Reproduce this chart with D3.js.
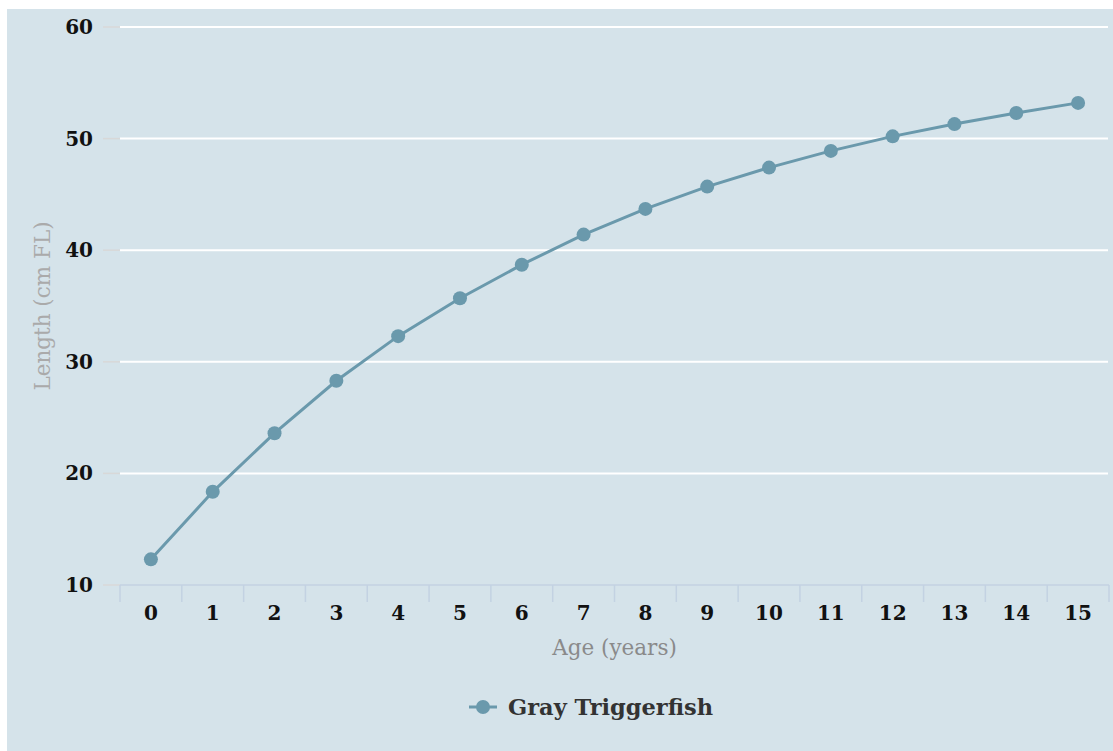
<!DOCTYPE html>
<html>
<head>
<meta charset="utf-8">
<script src="https://cdn.jsdelivr.net/npm/d3@7"></script>
<style>
  body { margin: 0; background: #fff; }
  svg { display: block; }
</style>
</head>
<body>
<svg id="chart" width="1113" height="751"></svg>
<script>
// ages and mean fork length
var ages = [0, 1, 2, 3, 4, 5, 6, 7, 8, 9, 10, 11, 12, 13, 14, 15];
var lengths = [12.3, 18.35, 23.6, 28.3, 32.3, 35.7, 38.7, 41.4, 43.7, 45.7, 47.4, 48.9, 50.2, 51.3, 52.3, 53.2];
var yTicks = [10, 20, 30, 40, 50, 60];
var seriesName = "Gray Triggerfish";

var svg = d3.select("#chart"),
    width = +svg.attr("width"),
    height = +svg.attr("height");

var plotL = 120, plotR = 1109, plotT = 27, plotB = 585;
var lineColor = "#6a99ac";
var serif = "'DejaVu Serif', serif";

// panel background
svg.append("rect")
  .attr("x", 7).attr("y", 9)
  .attr("width", width - 7).attr("height", height - 9)
  .attr("fill", "#d5e3ea");

var x = d3.scaleBand()
  .domain(ages)
  .range([plotL, plotR]);

var y = d3.scaleLinear()
  .domain([10, 60])
  .range([plotB, plotT]);

// horizontal grid + short gray y ticks
var grid = svg.append("g");
grid.selectAll("line.grid")
  .data(yTicks.slice(1))
  .enter().append("line")
  .attr("class", "grid")
  .attr("x1", plotL).attr("x2", plotR - 1)
  .attr("y1", function(d) { return y(d); })
  .attr("y2", function(d) { return y(d); })
  .attr("stroke", "#ffffff")
  .attr("stroke-width", 2);

grid.selectAll("line.ytick")
  .data(yTicks)
  .enter().append("line")
  .attr("class", "ytick")
  .attr("x1", 103).attr("x2", plotL)
  .attr("y1", function(d) { return y(d); })
  .attr("y2", function(d) { return y(d); })
  .attr("stroke", "#d8d8d8")
  .attr("stroke-width", 1.5);

svg.append("g").selectAll("text")
  .data(yTicks)
  .enter().append("text")
  .attr("x", 93)
  .attr("y", function(d) { return y(d); })
  .attr("dy", "0.35em")
  .attr("text-anchor", "end")
  .style("font-family", serif)
  .style("font-weight", "bold")
  .style("font-size", "20px")
  .attr("fill", "#111")
  .text(function(d) { return d; });

// x axis: baseline, ticks between bands, labels
var xa = svg.append("g");
xa.append("line")
  .attr("x1", plotL).attr("x2", plotR)
  .attr("y1", plotB).attr("y2", plotB)
  .attr("stroke", "#c3d2e2")
  .attr("stroke-width", 1.5);

var edges = ages.map(function(d) { return x(d); }).concat([plotR]);
xa.selectAll("line.xtick")
  .data(edges)
  .enter().append("line")
  .attr("class", "xtick")
  .attr("x1", function(d) { return d; })
  .attr("x2", function(d) { return d; })
  .attr("y1", plotB).attr("y2", plotB + 17)
  .attr("stroke", "#c3d2e2")
  .attr("stroke-width", 1.5);

xa.selectAll("text")
  .data(ages)
  .enter().append("text")
  .attr("x", function(d) { return x(d) + x.bandwidth() / 2; })
  .attr("y", 620)
  .attr("text-anchor", "middle")
  .style("font-family", serif)
  .style("font-weight", "bold")
  .style("font-size", "20px")
  .attr("fill", "#111")
  .text(function(d) { return d; });

// axis titles
svg.append("text")
  .attr("x", (plotL + plotR) / 2)
  .attr("y", 655)
  .attr("text-anchor", "middle")
  .style("font-family", serif)
  .style("font-size", "21.5px")
  .attr("fill", "#8a8a8a")
  .text("Age (years)");

svg.append("text")
  .attr("transform", "translate(50," + ((plotT + plotB) / 2) + ") rotate(-90)")
  .attr("text-anchor", "middle")
  .style("font-family", serif)
  .style("font-size", "21.5px")
  .attr("fill", "#aaaaaa")
  .text("Length (cm FL)");

// series
var pts = ages.map(function(a, i) { return [x(a) + x.bandwidth() / 2, y(lengths[i])]; });

svg.append("path")
  .attr("d", d3.line()(pts))
  .attr("fill", "none")
  .attr("stroke", lineColor)
  .attr("stroke-width", 3);

svg.append("g").selectAll("circle")
  .data(pts)
  .enter().append("circle")
  .attr("cx", function(d) { return d[0]; })
  .attr("cy", function(d) { return d[1]; })
  .attr("r", 7)
  .attr("fill", lineColor);

// legend
var lg = svg.append("g").attr("transform", "translate(483,707)");
lg.append("line")
  .attr("x1", -14).attr("x2", 14)
  .attr("stroke", lineColor)
  .attr("stroke-width", 3);
lg.append("circle")
  .attr("r", 7)
  .attr("fill", lineColor);
lg.append("text")
  .attr("x", 25)
  .attr("dy", "0.35em")
  .style("font-family", serif)
  .style("font-weight", "bold")
  .style("font-size", "22.5px")
  .attr("fill", "#333")
  .text(seriesName);
</script>
</body>
</html>
